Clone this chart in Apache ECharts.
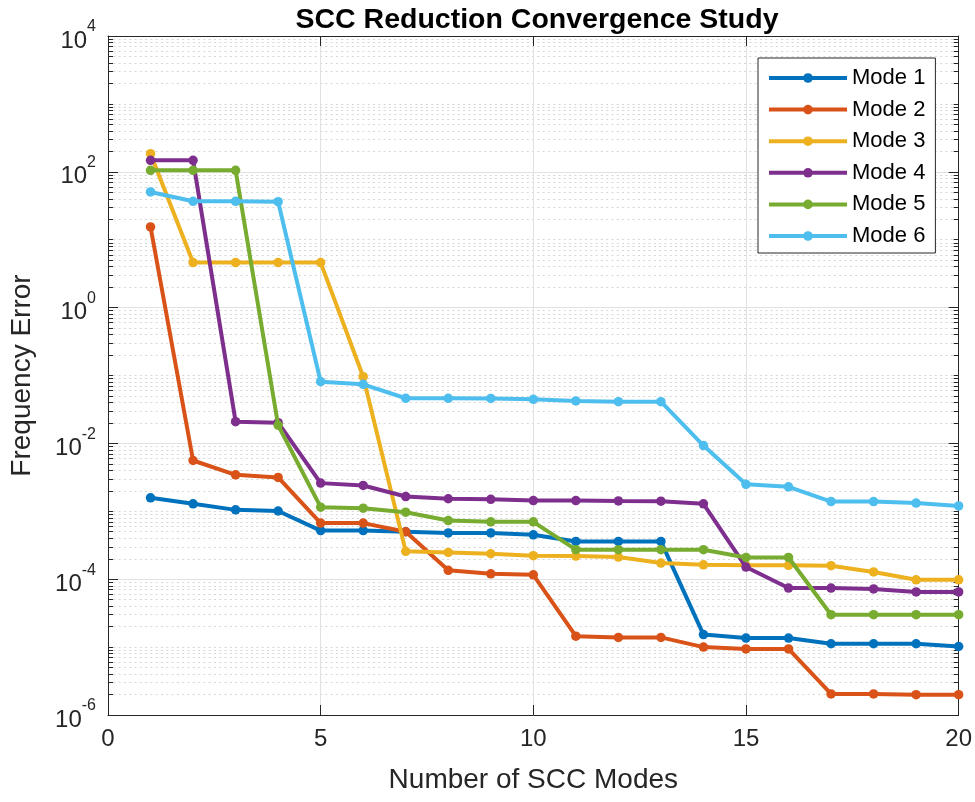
<!DOCTYPE html>
<html>
<head>
<meta charset="utf-8">
<script src="https://cdn.jsdelivr.net/npm/echarts@6/dist/echarts.min.js"></script>
<style>html,body{margin:0;padding:0;background:#fff}#c{width:975px;height:802px}</style>
</head>
<body>
<div id="c"></div>
<script>
const modes = [1,2,3,4,5,6,7,8,9,10,11,12,13,14,15,16,17,18,19,20];
const seriesNames = ['Mode 1','Mode 2','Mode 3','Mode 4','Mode 5','Mode 6'];
const mode1 = [1.58e-3,1.29e-3,1.05e-3,1.01e-3,5.2e-4,5.2e-4,5.0e-4,4.8e-4,4.8e-4,4.5e-4,3.6e-4,3.6e-4,3.6e-4,1.53e-5,1.36e-5,1.36e-5,1.12e-5,1.12e-5,1.12e-5,1.02e-5];
const mode2 = [15.4,5.6e-3,3.44e-3,3.15e-3,6.7e-4,6.7e-4,5.0e-4,1.35e-4,1.2e-4,1.16e-4,1.45e-5,1.39e-5,1.39e-5,1.0e-5,9.4e-6,9.4e-6,2.04e-6,2.04e-6,1.99e-6,1.99e-6];
const mode3 = [185,4.6,4.6,4.6,4.6,0.096,2.57e-4,2.48e-4,2.37e-4,2.22e-4,2.19e-4,2.12e-4,1.73e-4,1.63e-4,1.6e-4,1.6e-4,1.58e-4,1.28e-4,9.8e-5,9.8e-5];
const mode4 = [147.6,147.6,0.0209,0.0202,2.6e-3,2.4e-3,1.65e-3,1.53e-3,1.5e-3,1.44e-3,1.44e-3,1.42e-3,1.41e-3,1.29e-3,1.51e-4,7.4e-5,7.4e-5,7.2e-5,6.5e-5,6.5e-5];
const mode5 = [105,105,105,0.0185,1.15e-3,1.11e-3,9.7e-4,7.3e-4,7.0e-4,7.0e-4,2.72e-4,2.72e-4,2.72e-4,2.72e-4,2.09e-4,2.09e-4,3.0e-5,3.0e-5,3.0e-5,3.0e-5];
const mode6 = [50.5,36.8,36.8,36.3,0.081,0.0742,0.0462,0.0462,0.046,0.0446,0.0422,0.0412,0.0412,0.0093,0.0025,0.00229,0.00139,0.00139,0.00132,0.0012];
const colors = ['#0072BD','#D95319','#EDB120','#7E2F8E','#77AC30','#4DBEEE'];
const majorTicks = [1e-6,1e-4,1e-2,1,1e2,1e4];
const xTicks = [0,5,10,15,20];

const allData = [mode1,mode2,mode3,mode4,mode5,mode6];
const minorTicks = [];
for (let e = -6; e < 4; e++) {
  for (let m = 1; m <= 9; m++) {
    const v = m * Math.pow(10, e);
    if (m === 1 && e % 2 === 0) continue;
    minorTicks.push(v);
  }
}
const FONT = 'Liberation Sans, Arial, Helvetica, sans-serif';
const AX = '#262626';

const chart = echarts.init(document.getElementById('c'), null, {renderer: 'canvas'});
const baseY = {
  type: 'log', logBase: 10, min: 1e-6, max: 1e4, gridIndex: 0
};
chart.setOption({
  animation: false,
  color: colors,
  title: {
    text: 'SCC Reduction Convergence Study',
    left: 532, top: 1, textAlign: 'center',
    textStyle: {fontFamily: FONT, fontWeight: 'bold', fontSize: 28.5, color: '#000'}
  },
  grid: {left: 105, right: 16, top: 36, bottom: 87, containLabel: false},
  legend: {
    data: seriesNames,
    orient: 'vertical',
    left: 758, top: 58,
    itemWidth: 78, itemHeight: 12, itemGap: 9.6,
    padding: [9, 10, 6, 9],
    backgroundColor: '#fff',
    borderColor: '#262626', borderWidth: 1,
    lineStyle: {width: 4},
    textStyle: {fontFamily: FONT, fontSize: 22, color: '#000', lineHeight: 22}
  },
  xAxis: [{
    type: 'value', min: 0, max: 20, interval: 5, position: 'bottom',
    name: 'Number of SCC Modes', nameLocation: 'middle', nameGap: 51,
    nameTextStyle: {fontFamily: FONT, fontSize: 28, color: '#262626'},
    axisLine: {show: true, lineStyle: {color: AX, width: 1}},
    axisTick: {show: true, inside: true, length: 10, lineStyle: {color: AX}},
    axisLabel: {fontFamily: FONT, fontSize: 24, color: '#262626', margin: 12},
    splitLine: {show: true, lineStyle: {color: '#e1e1e1', width: 1}}
  }, {
    type: 'value', min: 0, max: 20, interval: 5, position: 'top',
    axisLine: {show: true, onZero: false, lineStyle: {color: AX, width: 1}},
    axisTick: {show: true, inside: true, length: 10, lineStyle: {color: AX}},
    axisLabel: {show: false}, splitLine: {show: false}
  }],
  yAxis: [Object.assign({}, baseY, {
    position: 'left',
    name: 'Frequency Error', nameLocation: 'middle', nameGap: 72,
    nameTextStyle: {fontFamily: FONT, fontSize: 28, color: '#262626'},
    axisLine: {show: true, lineStyle: {color: AX, width: 1}},
    axisTick: {show: true, inside: true, length: 10, lineStyle: {color: AX}, customValues: majorTicks},
    axisLabel: {
      customValues: majorTicks, margin: 12,
      formatter: function (v) {
        const e = Math.round(Math.log10(v));
        return '{b|10}{s|' + e + '}';
      },
      rich: {
        b: {fontFamily: FONT, fontSize: 24, color: '#262626', padding: [10, 0, 0, 0]},
        s: {fontFamily: FONT, fontSize: 16, color: '#262626', verticalAlign: 'top'}
      }
    },
    splitLine: {show: true, lineStyle: {color: '#e1e1e1', width: 1}}
  }), Object.assign({}, baseY, {
    position: 'left',
    axisLine: {show: false},
    axisTick: {show: true, inside: true, length: 5, lineStyle: {color: AX}, customValues: minorTicks},
    axisLabel: {show: false, customValues: minorTicks},
    splitLine: {show: true, lineStyle: {color: '#d6d6d6', width: 1, type: [2, 3.3]}}
  }), Object.assign({}, baseY, {
    position: 'right',
    axisLine: {show: true, onZero: false, lineStyle: {color: AX, width: 1}},
    axisTick: {show: true, inside: true, length: 10, lineStyle: {color: AX}, customValues: majorTicks},
    axisLabel: {show: false, customValues: majorTicks},
    splitLine: {show: false}
  }), Object.assign({}, baseY, {
    position: 'right',
    axisLine: {show: false},
    axisTick: {show: true, inside: true, length: 5, lineStyle: {color: AX}, customValues: minorTicks},
    axisLabel: {show: false, customValues: minorTicks},
    splitLine: {show: false}
  })],
  series: allData.map(function (d, i) {
    return {
      name: seriesNames[i], type: 'line',
      xAxisIndex: 0, yAxisIndex: 0,
      data: modes.map(function (x, j) { return [x, d[j]]; }),
      symbol: 'circle', symbolSize: 9.5, showSymbol: true,
      lineStyle: {width: 4, color: colors[i]},
      itemStyle: {color: colors[i]},
      emphasis: {disabled: true},
      z: 2 + i
    };
  })
});
</script>
</body>
</html>
